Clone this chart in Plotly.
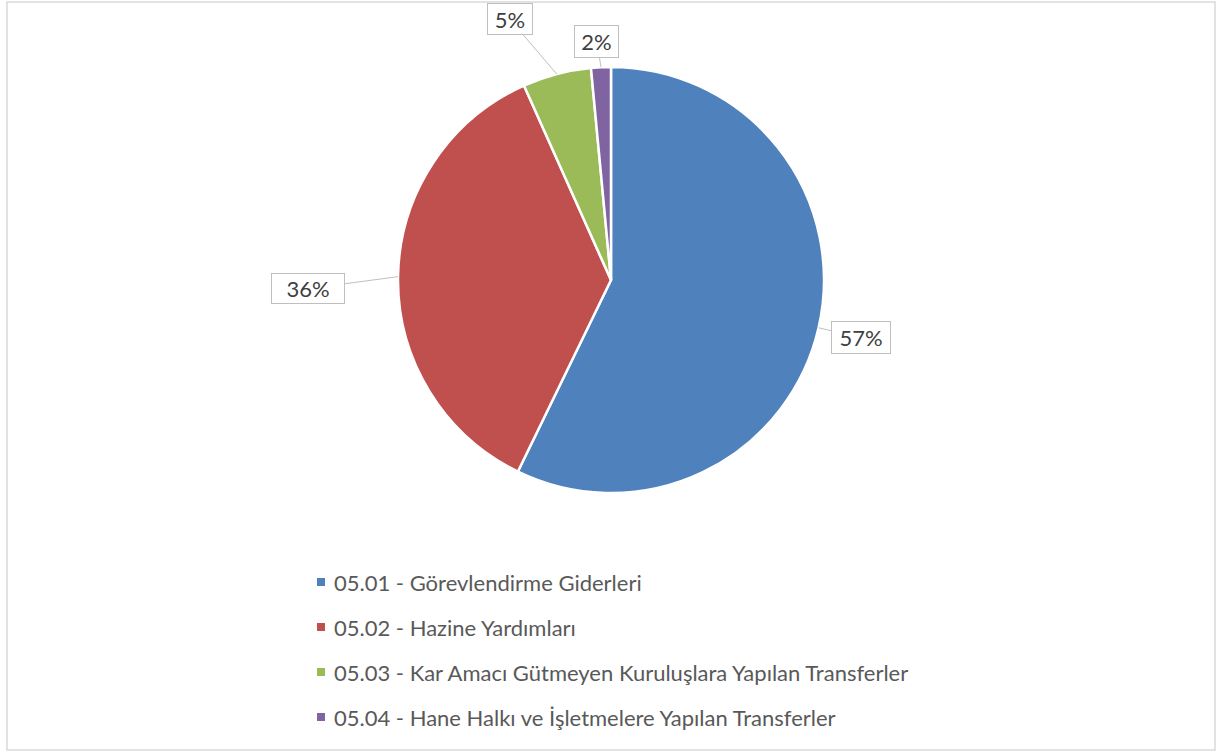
import math
import plotly.graph_objects as go

# Budget breakdown, shares in percent
categories = [
    "05.01 - Görevlendirme Giderleri",
    "05.02 - Hazine Yardımları",
    "05.03 - Kar Amacı Gütmeyen Kuruluşlara Yapılan Transferler",
    "05.04 - Hane Halkı ve İşletmelere Yapılan Transferler",
]
shares = [57.2, 36.1, 5.2, 1.5]
colors = ["#4F81BD", "#C0504D", "#9BBB59", "#8064A2"]

W, H = 1217, 754
CX, CY, R = 611, 280, 213  # pie centre and radius in px

# callout label offsets (px, from slice edge to box centre) and box sizes
label_offsets = [(42, 10), (-90, 12), (-47, -55), (-4, -26)]
label_boxes = [(60, 33), (74, 31), (46, 32), (45, 33)]

FONT = "Lato"

fig = go.Figure()
fig.add_trace(go.Pie(
    labels=categories,
    values=shares,
    sort=False,
    direction="clockwise",
    rotation=0,
    marker=dict(colors=colors, line=dict(color="white", width=2.5)),
    textinfo="none",
    hoverinfo="label+percent",
    showlegend=False,
    domain=dict(x=[(CX - R) / W, (CX + R) / W], y=[1 - (CY + R) / H, 1 - (CY - R) / H]),
))

annotations = []
shapes = []

# percentage callouts anchored at the midpoint of each slice's outer edge
total = sum(shares)
cum = 0.0
for v, (ox, oy), (bw, bh) in zip(shares, label_offsets, label_boxes):
    mid = (cum + v / 2) / total * 2 * math.pi
    cum += v
    px = CX + R * math.sin(mid)
    py = CY - R * math.cos(mid)
    pct = math.floor(v / total * 100 + 0.5)
    annotations.append(dict(
        x=px / W, y=1 - py / H, xref="paper", yref="paper",
        text=f"{pct}%", showarrow=True, arrowhead=0, arrowwidth=1,
        arrowcolor="#BFBFBF", ax=ox, ay=oy, standoff=0,
        font=dict(family=FONT, size=22, color="#404040"),
        bgcolor="white", bordercolor="#BFBFBF", borderwidth=1,
        borderpad=4, width=bw - 10, height=bh - 10,
    ))

# legend
LEG_X, LEG_Y0, LEG_GAP, SQ = 317, 582, 45, 8
for i, (name, c) in enumerate(zip(categories, colors)):
    yc = LEG_Y0 + i * LEG_GAP
    shapes.append(dict(
        type="rect", xref="paper", yref="paper",
        x0=LEG_X / W, x1=(LEG_X + SQ) / W,
        y0=1 - (yc + SQ / 2) / H, y1=1 - (yc - SQ / 2) / H,
        fillcolor=c, line=dict(width=0),
    ))
    annotations.append(dict(
        x=(LEG_X + 15) / W, y=1 - yc / H, xref="paper", yref="paper",
        xanchor="left", yanchor="middle", showarrow=False, text=name,
        font=dict(family=FONT, size=22, color="#595959"),
    ))

# chart frame
shapes.append(dict(
    type="rect", xref="paper", yref="paper",
    x0=7 / W, x1=1215 / W, y0=1 - 750 / H, y1=1 - 2 / H,
    line=dict(color="#D9D9D9", width=1.5), fillcolor="rgba(0,0,0,0)",
))

fig.update_layout(
    width=W, height=H,
    margin=dict(l=0, r=0, t=0, b=0),
    paper_bgcolor="white", plot_bgcolor="white",
    annotations=annotations, shapes=shapes,
    font=dict(family=FONT),
)

fig.write_html("out.html")
